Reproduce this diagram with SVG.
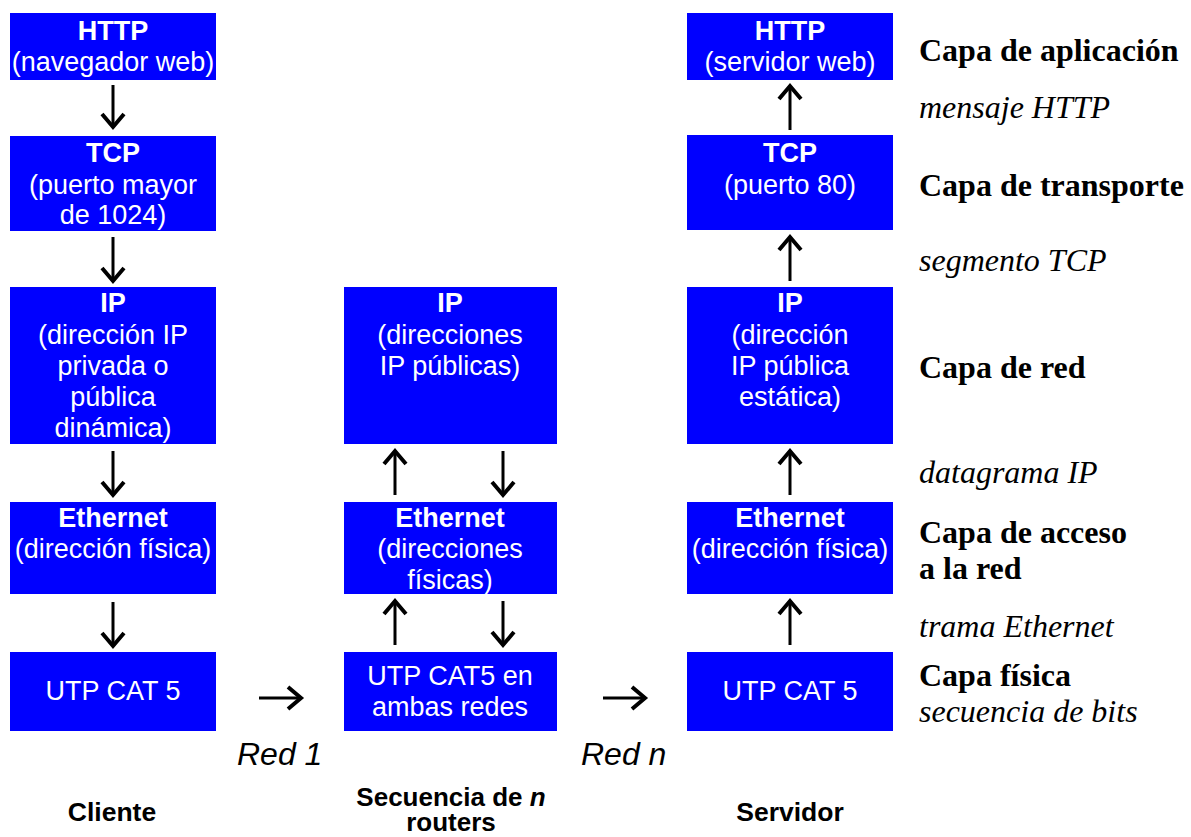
<svg xmlns="http://www.w3.org/2000/svg" width="1191" height="837" viewBox="0 0 1191 837">
  <style>
    .box { fill: #0000ff; }
    .t { font-family: "Liberation Sans", Arial, sans-serif; font-size: 27px; fill: #ffffff; text-anchor: middle; }
    .tb { font-weight: bold; }
    .layer { font-family: "Liberation Serif", "Times New Roman", serif; font-size: 32px; font-weight: bold; fill: #000000; }
    .unit { font-family: "Liberation Serif", "Times New Roman", serif; font-size: 32px; font-style: italic; fill: #000000; }
    .net { font-family: "Liberation Sans", Arial, sans-serif; font-size: 32px; font-style: italic; fill: #000000; }
    .host { font-family: "Liberation Sans", Arial, sans-serif; font-size: 26.5px; font-weight: bold; fill: #000000; text-anchor: middle; }
    .host2 { font-size: 26px; }
    .arr line { stroke: #000000; stroke-width: 3; }
    .arr polyline { fill: none; stroke: #000000; stroke-width: 4; stroke-linejoin: miter; stroke-linecap: butt; }
  </style>
  <rect width="1191" height="837" fill="#ffffff"/>

  <!-- Cliente -->
  <g id="cli-http"><rect class="box" x="10" y="13" width="206" height="67"/>
    <text class="t tb" x="113" y="40">HTTP</text>
    <text class="t" x="113" y="71">(navegador web)</text></g>
  <g id="cli-tcp"><rect class="box" x="10" y="136" width="206" height="95"/>
    <text class="t tb" x="113" y="162">TCP</text>
    <text class="t" x="113" y="194">(puerto mayor</text>
    <text class="t" x="113" y="224">de 1024)</text></g>
  <g id="cli-ip"><rect class="box" x="10" y="287" width="206" height="157"/>
    <text class="t tb" x="113" y="312">IP</text>
    <text class="t" x="113" y="344">(dirección IP</text>
    <text class="t" x="113" y="375">privada o</text>
    <text class="t" x="113" y="406">pública</text>
    <text class="t" x="113" y="437">dinámica)</text></g>
  <g id="cli-eth"><rect class="box" x="10" y="502" width="206" height="92"/>
    <text class="t tb" x="113" y="527">Ethernet</text>
    <text class="t" x="113" y="558">(dirección física)</text></g>
  <g id="cli-utp"><rect class="box" x="10" y="652" width="206" height="79"/>
    <text class="t" x="113" y="700">UTP CAT 5</text></g>

  <!-- Routers -->
  <g id="rt-ip"><rect class="box" x="344" y="287" width="213" height="157"/>
    <text class="t tb" x="450" y="312">IP</text>
    <text class="t" x="450" y="344">(direcciones</text>
    <text class="t" x="450" y="375">IP públicas)</text></g>
  <g id="rt-eth"><rect class="box" x="344" y="502" width="213" height="92"/>
    <text class="t tb" x="450" y="527">Ethernet</text>
    <text class="t" x="450" y="558">(direcciones</text>
    <text class="t" x="450" y="589">físicas)</text></g>
  <g id="rt-utp"><rect class="box" x="344" y="652" width="213" height="79"/>
    <text class="t" x="450" y="685">UTP CAT5 en</text>
    <text class="t" x="450" y="716">ambas redes</text></g>

  <!-- Servidor -->
  <g id="srv-http"><rect class="box" x="687" y="13" width="206" height="67"/>
    <text class="t tb" x="790" y="40">HTTP</text>
    <text class="t" x="790" y="71">(servidor web)</text></g>
  <g id="srv-tcp"><rect class="box" x="687" y="135" width="206" height="95"/>
    <text class="t tb" x="790" y="162">TCP</text>
    <text class="t" x="790" y="194">(puerto 80)</text></g>
  <g id="srv-ip"><rect class="box" x="687" y="287" width="206" height="157"/>
    <text class="t tb" x="790" y="312">IP</text>
    <text class="t" x="790" y="344">(dirección</text>
    <text class="t" x="790" y="375">IP pública</text>
    <text class="t" x="790" y="406">estática)</text></g>
  <g id="srv-eth"><rect class="box" x="687" y="502" width="206" height="92"/>
    <text class="t tb" x="790" y="527">Ethernet</text>
    <text class="t" x="790" y="558">(dirección física)</text></g>
  <g id="srv-utp"><rect class="box" x="687" y="652" width="206" height="79"/>
    <text class="t" x="790" y="700">UTP CAT 5</text></g>

  <!-- Connectors -->
  <g id="connectors" class="arr">
    <!-- client: downward -->
    <line x1="113" y1="85" x2="113" y2="126"/><polyline points="102,114 113,127 124,114"/>
    <line x1="113" y1="237" x2="113" y2="280"/><polyline points="102,268 113,281 124,268"/>
    <line x1="113" y1="451" x2="113" y2="494"/><polyline points="102,482 113,495 124,482"/>
    <line x1="113" y1="602" x2="113" y2="645"/><polyline points="102,633 113,646 124,633"/>
    <!-- routers: up and down -->
    <line x1="395" y1="495" x2="395" y2="452"/><polyline points="384,464 395,451 406,464"/>
    <line x1="503" y1="451" x2="503" y2="494"/><polyline points="492,482 503,495 514,482"/>
    <line x1="395" y1="645" x2="395" y2="602"/><polyline points="384,614 395,601 406,614"/>
    <line x1="503" y1="601" x2="503" y2="644"/><polyline points="492,632 503,645 514,632"/>
    <!-- server: upward -->
    <line x1="790" y1="130" x2="790" y2="87"/><polyline points="779,99 790,86 801,99"/>
    <line x1="790" y1="281" x2="790" y2="238"/><polyline points="779,250 790,237 801,250"/>
    <line x1="790" y1="495" x2="790" y2="452"/><polyline points="779,464 790,451 801,464"/>
    <line x1="790" y1="645" x2="790" y2="602"/><polyline points="779,614 790,601 801,614"/>
    <!-- between networks -->
    <line x1="259" y1="698" x2="300" y2="698"/><polyline points="288,687 301,698 288,709"/>
    <line x1="603" y1="698" x2="644" y2="698"/><polyline points="632,687 645,698 632,709"/>
  </g>

  <!-- Layer names and data units -->
  <g id="layers">
    <text class="layer" x="919" y="61">Capa de aplicación</text>
    <text class="unit" x="919" y="118">mensaje HTTP</text>
    <text class="layer" x="919" y="196">Capa de transporte</text>
    <text class="unit" x="919" y="271">segmento TCP</text>
    <text class="layer" x="919" y="378">Capa de red</text>
    <text class="unit" x="919" y="483">datagrama IP</text>
    <text class="layer" x="919" y="543">Capa de acceso</text>
    <text class="layer" x="919" y="579">a la red</text>
    <text class="unit" x="919" y="637">trama Ethernet</text>
    <text class="layer" x="919" y="686">Capa física</text>
    <text class="unit" x="919" y="722">secuencia de bits</text>
  </g>

  <!-- Network and host labels -->
  <g id="labels">
    <text class="net" x="237" y="765">Red 1</text>
    <text class="net" x="581" y="765">Red n</text>
    <text class="host" x="112" y="821">Cliente</text>
    <text class="host host2" x="451" y="806">Secuencia de <tspan font-style="italic">n</tspan></text>
    <text class="host host2" x="451" y="831">routers</text>
    <text class="host" x="790" y="821">Servidor</text>
  </g>
</svg>
